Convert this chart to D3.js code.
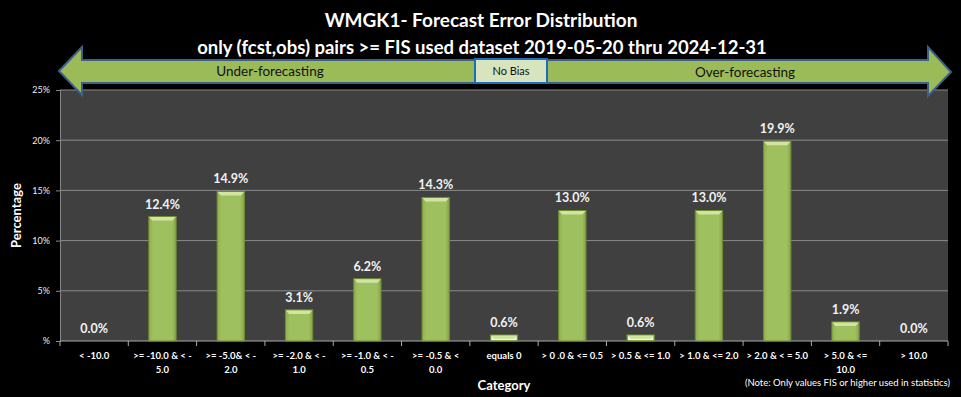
<!DOCTYPE html>
<html>
<head>
<meta charset="utf-8">
<script src="https://cdn.jsdelivr.net/npm/d3@7"></script>
<style>
  body { margin: 0; background: #000; }
  svg { display: block; font-family: Lato, "Open Sans", sans-serif; }
</style>
</head>
<body>
<div id="chart"></div>
<script>
// chart data
const categories = [
    ['< -10.0'],
    ['>= -10.0 & < -', '5.0'],
    ['>= -5.0& < -', '2.0'],
    ['>= -2.0 & < -', '1.0'],
    ['>= -1.0 & < -', '0.5'],
    ['>= -0.5 & <', '0.0'],
    ['equals 0'],
    ['> 0 .0 & <= 0.5'],
    ['> 0.5 & <= 1.0'],
    ['> 1.0 & <= 2.0'],
    ['> 2.0 & < = 5.0'],
    ['> 5.0 & <=', '10.0'],
    ['> 10.0']
];
const percents = [0.0, 12.4, 14.9, 3.1, 6.2, 14.3, 0.6, 13.0, 0.6, 13.0, 19.9, 1.9, 0.0];
const yTicks = [0, 5, 10, 15, 20, 25];

const W = 961, H = 397;
const margin = {top: 90, right: 13, bottom: 56, left: 60};
const width = W - margin.left - margin.right;
const height = H - margin.top - margin.bottom;

const svg = d3.select('#chart').append('svg')
    .attr('width', W)
    .attr('height', H);

svg.append('rect').attr('width', W).attr('height', H).attr('fill', '#000');

// titles
svg.append('text')
    .attr('x', 481).attr('y', 27)
    .attr('text-anchor', 'middle')
    .attr('fill', '#fff')
    .style('font-size', '19px').style('font-weight', 'bold')
    .text('WMGK1- Forecast Error Distribution');
svg.append('text')
    .attr('x', 482).attr('y', 54)
    .attr('text-anchor', 'middle')
    .attr('fill', '#fff')
    .style('font-size', '18.5px').style('font-weight', 'bold')
    .text('only (fcst,obs) pairs >= FIS used dataset 2019-05-20  thru 2024-12-31');

const g = svg.append('g')
    .attr('transform', 'translate(' + margin.left + ',' + margin.top + ')');

const x = d3.scaleBand()
    .domain(d3.range(categories.length))
    .range([0, width])
    .paddingInner(0.6)
    .paddingOuter(0.3);
const xTick = d3.scaleLinear().domain([0, categories.length]).range([0, width]);
const y = d3.scaleLinear().domain([0, 25]).range([height, 0]);

// plot area
g.append('rect')
    .attr('width', width).attr('height', height)
    .attr('fill', '#404040');

// grid
g.selectAll('.grid').data(yTicks.slice(1)).enter()
    .append('line')
    .attr('x1', 0).attr('x2', width)
    .attr('y1', d => y(d)).attr('y2', d => y(d))
    .attr('stroke', '#8a8a8a').attr('stroke-width', 1);

// axes
const yAxis = g.append('g')
    .call(d3.axisLeft(y).tickValues(yTicks).tickSize(4)
        .tickFormat(d => d === 0 ? '%' : d + '%'));
yAxis.select('.domain').attr('stroke', '#888');
yAxis.selectAll('.tick line').attr('stroke', '#888');
yAxis.selectAll('.tick text')
    .attr('fill', '#eee').attr('x', -10)
    .style('font-size', '9px').style('font-family', 'Lato, sans-serif');

const xAxis = g.append('g')
    .attr('transform', 'translate(0,' + height + ')');
xAxis.append('line')
    .attr('x1', 0).attr('x2', width)
    .attr('stroke', '#aaa');
xAxis.selectAll('.xt').data(d3.range(categories.length + 1)).enter()
    .append('line')
    .attr('x1', d => xTick(d)).attr('x2', d => xTick(d))
    .attr('y1', 0).attr('y2', 5)
    .attr('stroke', '#aaa');

// gradient for bar sides
const defs = svg.append('defs');
const grad = defs.append('linearGradient').attr('id', 'barGrad')
    .attr('x1', '0').attr('x2', '1').attr('y1', '0').attr('y2', '0');
grad.append('stop').attr('offset', '0').attr('stop-color', '#8fae4d');
grad.append('stop').attr('offset', '0.15').attr('stop-color', '#9fc05e');
grad.append('stop').attr('offset', '0.85').attr('stop-color', '#9fc05e');
grad.append('stop').attr('offset', '1').attr('stop-color', '#86a446');

// bars (keep the category index with each value)
const barData = percents.map((v, i) => ({v: v, i: i}));
const bars = g.selectAll('.bar').data(barData.filter(d => d.v > 0)).enter()
    .append('g');
bars.append('rect')
    .attr('x', d => x(d.i))
    .attr('y', d => y(d.v))
    .attr('width', x.bandwidth())
    .attr('height', d => height - y(d.v))
    .attr('fill', 'url(#barGrad)')
    .attr('stroke', '#6f8c35')
    .attr('stroke-width', 1);
// light fill on very short bars
bars.filter(d => d.v < 1).append('rect')
    .attr('x', d => x(d.i) + 1)
    .attr('y', d => y(d.v) + 1)
    .attr('width', x.bandwidth() - 2)
    .attr('height', d => height - y(d.v) - 2)
    .attr('fill', '#f4f8ea');
// top bevel
bars.append('path')
    .attr('d', d => {
        const x0 = x(d.i) + 0.5, x1 = x(d.i) + x.bandwidth() - 0.5;
        const t = y(d.v) + 0.5, b = Math.min(y(d.v) + 4, height - 1);
        return 'M' + x0 + ',' + t + 'L' + x1 + ',' + t + 'L' + (x1 - 3) + ',' + b + 'L' + (x0 + 3) + ',' + b + 'Z';
    })
    .attr('fill', '#d2e5a0');

// value labels
g.selectAll('.lbl').data(barData).enter()
    .append('text')
    .attr('x', d => x(d.i) + x.bandwidth() / 2)
    .attr('y', d => y(d.v) - 8)
    .attr('text-anchor', 'middle')
    .attr('fill', '#f2f2f2')
    .style('font-size', '12.5px').style('font-weight', 'bold')
    .text(d => d.v.toFixed(1) + '%');

// category labels
const catText = xAxis.selectAll('.cat').data(categories).enter()
    .append('text')
    .attr('text-anchor', 'middle')
    .attr('fill', '#fff')
    .style('font-size', '9.5px').style('font-weight', 'bold')
    .attr('transform', (d, i) => 'translate(' + (x(i) + x.bandwidth() / 2) + ',0)');
catText.selectAll('tspan').data(d => d).enter()
    .append('tspan')
    .attr('x', 0)
    .attr('y', (d, i) => 18 + i * 14)
    .text(d => d);

// axis titles
svg.append('text')
    .attr('transform', 'translate(21,' + (margin.top + height / 2) + ') rotate(-90)')
    .attr('text-anchor', 'middle')
    .attr('fill', '#fff')
    .style('font-size', '13px').style('font-weight', 'bold')
    .text('Percentage');
svg.append('text')
    .attr('x', 504).attr('y', 390)
    .attr('text-anchor', 'middle')
    .attr('fill', '#fff')
    .style('font-size', '13px').style('font-weight', 'bold')
    .text('Category');
svg.append('text')
    .attr('x', 950).attr('y', 386)
    .attr('text-anchor', 'end')
    .attr('fill', '#fff')
    .style('font-size', '9.5px')
    .text('(Note: Only values FIS or higher used in statistics)');

// bias arrow
const arrow = svg.append('g');
arrow.append('path')
    .attr('d', 'M59,71 L82,47 L82,60 L928,60 L928,47 L951,72 L928,96 L928,83 L82,83 L82,95 Z')
    .attr('fill', '#9bbb59')
    .attr('stroke', '#3d5f8a')
    .attr('stroke-width', 2)
    .attr('stroke-linejoin', 'miter');
arrow.append('rect')
    .attr('x', 475).attr('y', 59)
    .attr('width', 72).attr('height', 24)
    .attr('fill', '#d7e4bd')
    .attr('stroke', '#1a6fb8')
    .attr('stroke-width', 2);
arrow.append('text')
    .attr('x', 511).attr('y', 75)
    .attr('text-anchor', 'middle')
    .attr('fill', '#111')
    .style('font-size', '11px')
    .text('No  Bias');
arrow.append('text')
    .attr('x', 270).attr('y', 76)
    .attr('text-anchor', 'middle')
    .attr('fill', '#111')
    .style('font-size', '13.5px')
    .text('Under-forecasting');
arrow.append('text')
    .attr('x', 745).attr('y', 77)
    .attr('text-anchor', 'middle')
    .attr('fill', '#111')
    .style('font-size', '13.5px')
    .text('Over-forecasting');
</script>
</body>
</html>
